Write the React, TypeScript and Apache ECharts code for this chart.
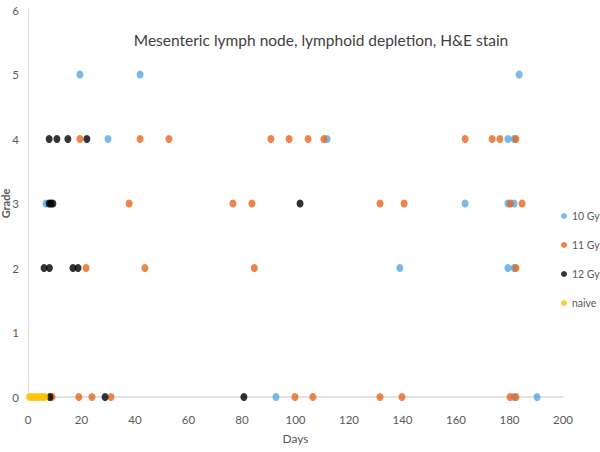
import React, { useEffect, useRef } from "react";
import * as echarts from "echarts";

const xTicks = [0, 20, 40, 60, 80, 100, 120, 140, 160, 180, 200];
const yTicks = [0, 1, 2, 3, 4, 5, 6];

// [day, grade]
const gy10: [number, number][] = [
  [19.4, 5], [41.9, 5], [183.6, 5],
  [29.9, 4], [111.8, 4], [179.4, 4], [181.7, 4],
  [6.7, 3], [163.4, 3], [179.4, 3], [181.7, 3],
  [139, 2], [179.4, 2], [181.7, 2],
  [92.7, 0], [181.7, 0], [190.3, 0],
];
const gy11: [number, number][] = [
  [19.4, 4], [41.9, 4], [52.7, 4], [90.8, 4], [97.6, 4], [104.7, 4], [110.6, 4],
  [163.4, 4], [173.5, 4], [176.4, 4], [182.4, 4],
  [37.8, 3], [76.6, 3], [83.7, 3], [131.6, 3], [140.6, 3], [180.3, 3], [184.7, 3],
  [21.7, 2], [43.7, 2], [84.6, 2], [182.4, 2],
  [9, 0], [19, 0], [23.9, 0], [31, 0], [99.8, 0], [106.5, 0], [131.6, 0],
  [139.8, 0], [180.2, 0], [182.4, 0],
];
const gy12: [number, number][] = [
  [7.9, 4], [10.8, 4], [14.9, 4], [22, 4],
  [7.9, 3], [8.6, 3], [9.3, 3], [101.7, 3],
  [6, 2], [8, 2], [16.8, 2], [18.7, 2],
  [8.2, 0], [28.8, 0], [80.7, 0],
];
const naive: [number, number][] = [
  [0.5, 0], [1.5, 0], [2.5, 0], [3.5, 0], [4.5, 0], [5.5, 0], [6.3, 0],
];

const seriesNames = ["10 Gy", "11 Gy", "12 Gy", "naive"];
const seriesColors = ["#55A8E6", "#E8651F", "#000000", "#FFC000"];
const seriesData = [gy10, gy11, gy12, naive];

const FONT = "Lato";
const GRAY = "#595959";

export default function App() {
  const ref = useRef<HTMLDivElement>(null);
  useEffect(() => {
    if (!ref.current) return;
    const chart = echarts.init(ref.current, null, { renderer: "svg" });
    chart.setOption({
      animation: false,
      backgroundColor: "#ffffff",
      title: {
        text: "Mesenteric lymph node, lymphoid depletion, H&E stain",
        left: 316,
        top: 27,
        textAlign: "center",
        textStyle: { fontFamily: FONT, fontSize: 15.5, fontWeight: "normal", color: "#404040" },
      },
      legend: {
        orient: "vertical",
        left: 561,
        top: 209,
        padding: 0,
        itemWidth: 6,
        itemHeight: 6,
        itemGap: 15,
        icon: "circle",
        textStyle: { fontFamily: FONT, fontSize: 10.5, color: GRAY, lineHeight: 14 },
        data: seriesNames,
      },
      grid: { left: 28, right: 37, top: 10, bottom: 55, containLabel: false, outerBoundsMode: "none" },
      xAxis: {
        type: "value",
        min: 0,
        max: 200,
        interval: 20,
        name: "Days",
        nameLocation: "middle",
        nameGap: 35,
        nameMoveOverlap: false,
        nameTextStyle: { fontFamily: FONT, fontSize: 12, color: GRAY },
        axisLine: { show: true, lineStyle: { color: "#D9D9D9", width: 1.5 } },
        axisTick: { show: false },
        splitLine: { show: false },
        axisLabel: {
          fontFamily: FONT,
          fontSize: 11.5,
          color: GRAY,
          margin: 16,
          formatter: (v: number) => (xTicks.includes(v) ? String(v) : ""),
        },
      },
      yAxis: {
        type: "value",
        min: 0,
        max: 6,
        interval: 1,
        name: "Grade",
        nameLocation: "middle",
        nameGap: 17,
        nameMoveOverlap: false,
        nameTextStyle: { fontFamily: FONT, fontSize: 11, fontWeight: "bold", color: GRAY },
        axisLine: { show: true, lineStyle: { color: "#D9D9D9", width: 1 } },
        axisTick: { show: false },
        splitLine: { show: false },
        axisLabel: {
          fontFamily: FONT,
          fontSize: 11.5,
          color: GRAY,
          margin: 9,
          formatter: (v: number) => (yTicks.includes(v) ? String(v) : ""),
        },
      },
      series: seriesNames.map((name, i) => ({
        name,
        type: "scatter",
        symbol: "circle",
        symbolSize: [7, 8],
        itemStyle: { color: seriesColors[i] },
        data: seriesData[i],
      })),
    });
    return () => chart.dispose();
  }, []);
  return <div ref={ref} style={{ width: 600, height: 452, position: "absolute", left: 0, top: 0 }} />;
}
